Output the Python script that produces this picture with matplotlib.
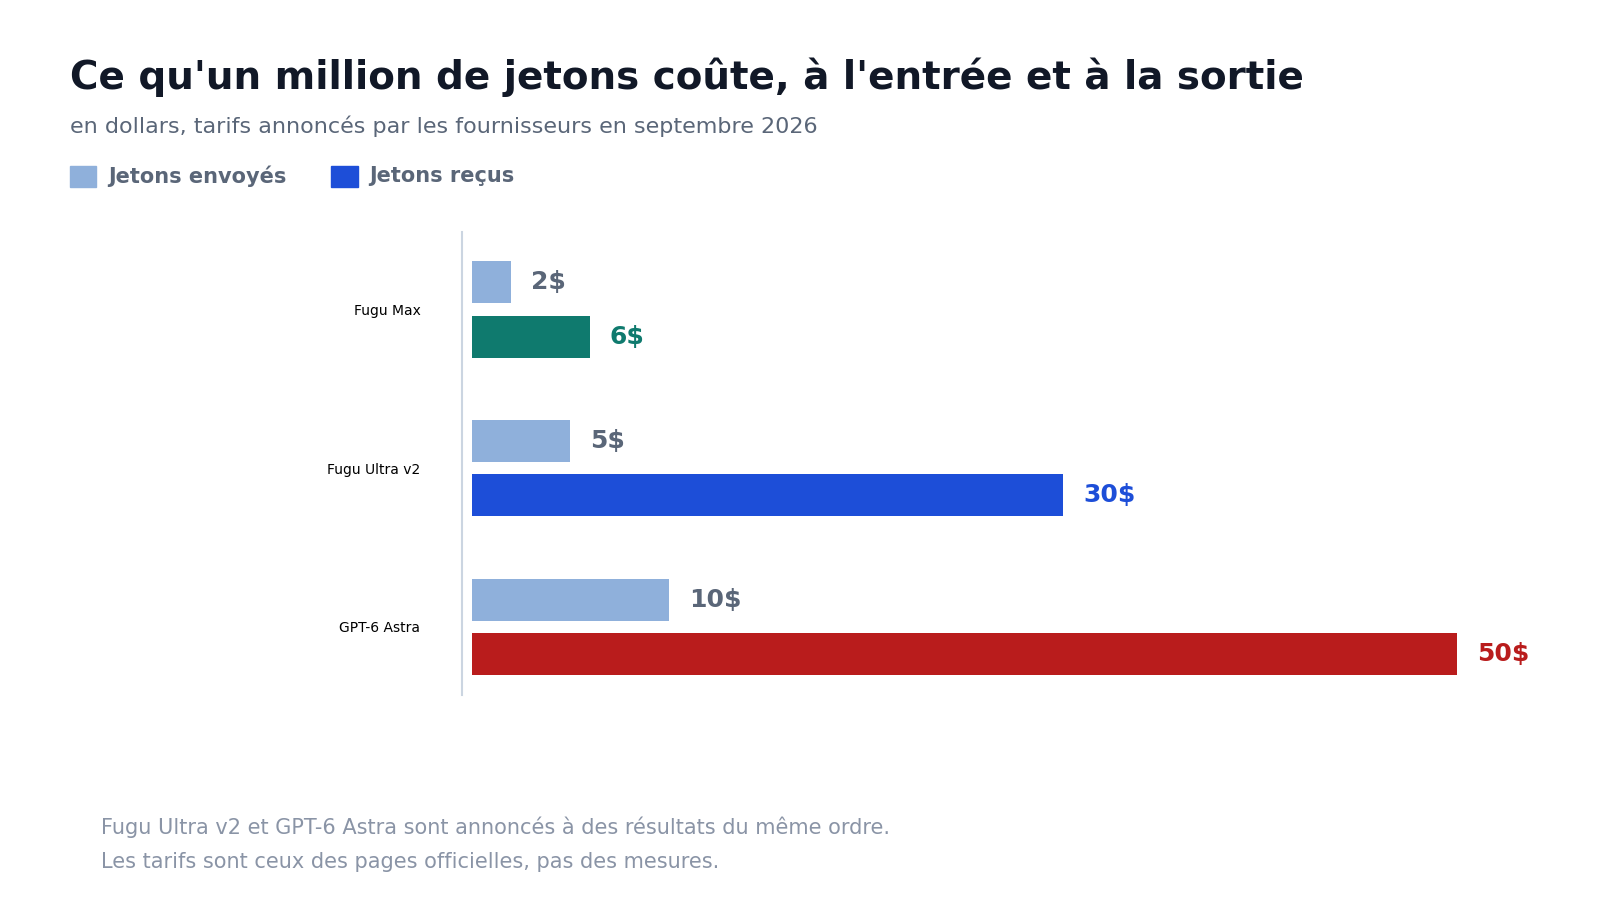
import matplotlib
matplotlib.use("Agg")
import matplotlib.pyplot as plt
from matplotlib.patches import Rectangle

models = ["Fugu Max", "Fugu Ultra v2", "GPT-6 Astra"]
input_price = [2, 5, 10]
output_price = [6, 30, 50]
output_colors = ["#0f7a6e", "#1d4ed8", "#b91c1c"]
in_color = "#8fb0db"
gray = "#5a6678"
dark = "#111827"

W, H = 1560, 878
fig = plt.figure(figsize=(16, 9), dpi=100)
ax = fig.add_axes([460/W, 1-678/H, 961/W, 452/H])
ax.set_xlim(0, 50)
ax.set_ylim(2.43, -0.49)
off, h = 0.171, 0.265
for i, (a, b, c) in enumerate(zip(input_price, output_price, output_colors)):
    ax.barh(i - off, a, height=h, color=in_color)
    ax.barh(i + off, b, height=h, color=c)
    ax.text(a + 1.0, i - off, f"{a}$", va="center", ha="left", fontsize=18, fontweight="bold", color=gray)
    ax.text(b + 1.0, i + off, f"{b}$", va="center", ha="left", fontsize=18, fontweight="bold", color=c)
ax.set_yticks(range(3))
ax.set_yticklabels(models, fontsize=20, fontweight="bold", color=dark)
ax.tick_params(axis="y", length=0, pad=30)
ax.set_xticks([])
for s in ["top", "right", "bottom"]:
    ax.spines[s].set_visible(False)
ax.spines["left"].set_position(("outward", 7))
ax.spines["left"].set_color("#cbd5e1")
ax.spines["left"].set_linewidth(1.5)

fig.text(68/W, 1-75/H, "Ce qu'un million de jetons coûte, à l'entrée et à la sortie",
         fontsize=28, fontweight="bold", color=dark, va="center")
fig.text(68/W, 1-123/H, "en dollars, tarifs annoncés par les fournisseurs en septembre 2026",
         fontsize=16, color=gray, va="center")
for x0, col, lab in [(68, in_color, "Jetons envoyés"), (323, "#1d4ed8", "Jetons reçus")]:
    fig.patches.append(Rectangle((x0/W, 1-182/H), 26/W, 20/H, color=col, transform=fig.transFigure))
    fig.text((x0+37)/W, 1-172/H, lab, fontsize=15, fontweight="bold", color=gray, va="center")
fig.text(98/W, 1-807/H, "Fugu Ultra v2 et GPT-6 Astra sont annoncés à des résultats du même ordre.",
         fontsize=15, color="#8a94a6", va="center")
fig.text(98/W, 1-841/H, "Les tarifs sont ceux des pages officielles, pas des mesures.",
         fontsize=15, color="#8a94a6", va="center")
fig.savefig("out.png", dpi=100, facecolor="white")
